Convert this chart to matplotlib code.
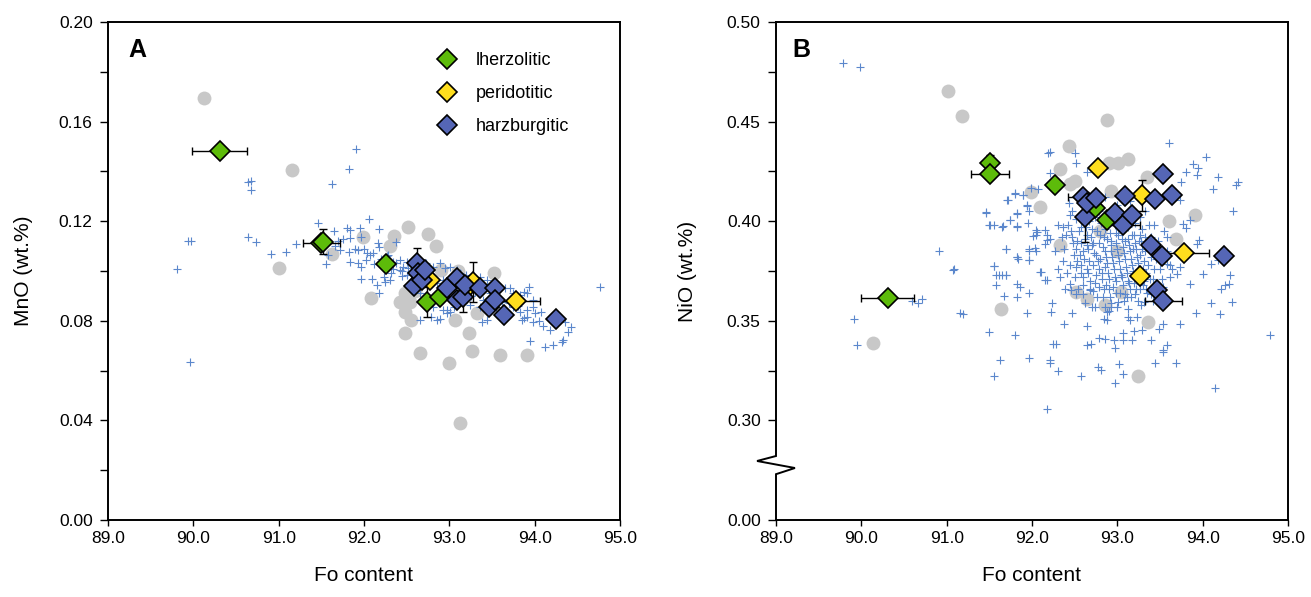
import numpy as np
import matplotlib
matplotlib.use("Agg")
import matplotlib.pyplot as plt
from matplotlib.ticker import MultipleLocator, FixedLocator, FormatStrFormatter
from matplotlib.lines import Line2D

plt.rcParams['font.family'] = ['Liberation Sans', 'DejaVu Sans']

# ---------------- panel A: MnO vs Fo ----------------
# grey circles (literature olivines)
gray_fo_a = [90.13, 91.16, 91.00, 91.99, 91.63, 92.52, 92.75, 92.35, 92.84, 92.30,
             92.08, 92.42, 92.54, 92.48, 92.55, 93.07, 93.32, 93.52, 92.48, 93.23,
             92.66, 93.00, 93.27, 93.59, 93.91, 93.13, 92.48, 92.90, 93.10, 92.60]
gray_mno = [0.1695, 0.1407, 0.1013, 0.1138, 0.1068, 0.1178, 0.1149, 0.1141, 0.1100, 0.1100,
            0.0890, 0.0877, 0.0877, 0.0837, 0.0803, 0.0803, 0.0830, 0.0993, 0.0750, 0.0750,
            0.0669, 0.0629, 0.0680, 0.0661, 0.0661, 0.0391, 0.0910, 0.1005, 0.1000, 0.0920]

# blue crosses (inclusion olivines)
cross_fo_a = [89.81, 89.94, 89.97, 89.96, 90.64, 90.68, 90.68, 90.64, 90.73, 90.91,
              91.09, 91.20, 91.46, 91.62, 91.82, 91.91, 92.06, 94.77,
              91.80, 91.84, 91.95, 92.17, 91.84, 91.97, 91.72, 91.82, 91.93, 92.03,
              92.07, 92.10, 91.58, 91.56, 91.84, 91.93, 91.97, 92.17, 92.16, 92.38,
              92.42, 92.34, 92.38, 92.46, 92.52, 92.42, 92.34, 91.97, 92.09, 92.15,
              92.17, 92.23, 92.30, 92.25,
              92.58, 92.66, 92.73, 92.81, 92.89, 92.95, 93.01, 93.09, 93.13, 93.20,
              93.28, 93.36, 93.44, 93.59, 93.65, 93.71, 93.75, 93.83, 93.87, 93.91,
              93.98, 93.98,
              92.66, 92.70, 92.81, 92.93, 92.97, 93.05, 93.16, 93.24, 93.36, 93.44,
              93.55, 93.75, 93.83,
              92.79, 92.85, 92.89, 93.01, 93.38, 93.44, 93.87, 93.91,
              93.95, 94.12, 94.22, 94.32, 94.33, 94.39, 94.42, 94.18, 94.08, 93.91,
              93.93, 93.85, 93.98, 92.66, 92.97, 94.25, 94.35, 94.10,
              92.50, 92.62, 92.78, 92.92, 93.05, 93.18, 93.30, 93.50, 93.62, 92.27,
              91.70, 91.66, 92.00, 92.45, 92.55,
              92.20, 92.28, 92.32, 92.44, 92.50, 92.56, 92.60, 92.70, 92.78, 92.85,
              92.92, 93.00, 93.10, 93.25, 93.40, 93.48, 93.70, 93.80, 94.00, 94.05,
              92.12, 92.02, 91.90, 91.75, 91.65]
cross_mno = [0.1007, 0.1122, 0.1122, 0.0635, 0.1356, 0.1360, 0.1324, 0.1138, 0.1115, 0.1067,
             0.1078, 0.1108, 0.1191, 0.1350, 0.1410, 0.1489, 0.1208, 0.0937,
             0.1174, 0.1165, 0.1171, 0.1169, 0.1131, 0.1138, 0.1084, 0.1078, 0.1084, 0.1071,
             0.1064, 0.1071, 0.1064, 0.1028, 0.1037, 0.1031, 0.1017, 0.1098, 0.1111, 0.1118,
             0.1044, 0.1037, 0.1031, 0.1017, 0.1011, 0.1004, 0.1007, 0.0967, 0.0967, 0.0944,
             0.0910, 0.0977, 0.0964, 0.0957,
             0.1044, 0.1017, 0.1031, 0.1017, 0.1031, 0.1011, 0.1017, 0.1004, 0.0991, 0.0984,
             0.0977, 0.0977, 0.0964, 0.0937, 0.0930, 0.0930, 0.0910, 0.0904, 0.0917, 0.0910,
             0.0884, 0.0857,
             0.0910, 0.0884, 0.0857, 0.0843, 0.0843, 0.0857, 0.0870, 0.0863, 0.0857, 0.0843,
             0.0857, 0.0857, 0.0837,
             0.0816, 0.0803, 0.0806, 0.0837, 0.0796, 0.0803, 0.0810, 0.0816,
             0.0720, 0.0696, 0.0703, 0.0716, 0.0722, 0.0756, 0.0776, 0.0763, 0.0837, 0.0843,
             0.0937, 0.0803, 0.0796, 0.0803, 0.0830, 0.0790, 0.0795, 0.0780,
             0.0985, 0.0975, 0.0960, 0.0950, 0.0940, 0.0925, 0.0915, 0.0890, 0.0875, 0.1060,
             0.1120, 0.1100, 0.1090, 0.1000, 0.0985,
             0.1050, 0.1065, 0.0990, 0.0980, 0.1035, 0.1000, 0.0970, 0.0990, 0.0970, 0.0950,
             0.0965, 0.0940, 0.0920, 0.0900, 0.0885, 0.0910, 0.0870, 0.0860, 0.0830, 0.0800,
             0.1030, 0.1045, 0.1090, 0.1130, 0.1160]

# diamonds: mean values of the three xenolith groups
lherz_fo_a = [90.31, 91.50, 91.52, 92.26, 92.74, 92.89]
lherz_mno = [0.1483, 0.1114, 0.1118, 0.1028, 0.0874, 0.0897]
lherz_xerr_a = [0.32, 0.22, 0.0, 0.0, 0.0, 0.0]
lherz_yerr_a = [0.0, 0.0, 0.005, 0.0, 0.006, 0.0]

perid_fo_a = [92.77, 93.22, 93.28, 93.78]
perid_mno = [0.0964, 0.0937, 0.0957, 0.0880]
perid_xerr_a = [0.0, 0.0, 0.0, 0.28]
perid_yerr_a = [0.0, 0.0, 0.008, 0.0]

harz_fo_a = [92.59, 92.62, 92.63, 92.68, 92.72, 92.97, 93.09, 93.09, 93.16, 93.18,
             93.36, 93.46, 93.54, 93.54, 93.64, 94.25]
harz_mno = [0.0941, 0.1031, 0.0991, 0.0965, 0.1005, 0.0930, 0.0973, 0.0884, 0.0897, 0.0945,
            0.0930, 0.0857, 0.0930, 0.0884, 0.0823, 0.0806]
harz_xerr_a = [0.0, 0.0, 0.0, 0.0, 0.0, 0.0, 0.0, 0.0, 0.0, 0.0,
               0.0, 0.0, 0.0, 0.0, 0.0, 0.0]
harz_yerr_a = [0.0, 0.006, 0.0, 0.0, 0.0, 0.0, 0.0, 0.0, 0.006, 0.0,
               0.0, 0.0, 0.0, 0.0, 0.0, 0.0]

# ---------------- panel B: NiO vs Fo ----------------
gray_fo_b = [90.14, 91.02, 91.18, 91.99, 92.09, 92.43, 92.88, 92.33, 93.01, 93.12,
             92.90, 93.35, 92.93, 93.60, 93.91, 93.69, 92.33, 91.64, 92.52, 92.65,
             92.86, 93.04, 93.36, 93.24, 92.50, 92.45, 92.80, 93.00]
gray_nio = [0.3387, 0.4655, 0.4528, 0.4147, 0.4069, 0.4377, 0.4508, 0.4264, 0.4290, 0.4310,
            0.4290, 0.4223, 0.4152, 0.4002, 0.4030, 0.3913, 0.3879, 0.3561, 0.3645, 0.3607,
            0.3581, 0.3645, 0.3494, 0.3223, 0.4200, 0.4185, 0.3950, 0.3850]

cross_fo_b = [
    # scattered points
    89.79, 89.98, 89.91, 89.95, 90.59, 90.66, 90.71, 90.91, 91.08, 91.16,
    91.46, 91.71, 91.80, 91.90, 91.94, 91.82, 91.74, 91.51, 91.66, 91.82,
    91.95, 92.05, 92.01, 91.70, 91.82, 91.97, 91.96, 92.05, 92.15, 92.17,
    91.56, 91.61, 91.70, 92.10, 92.19,
    93.61, 94.04, 93.89, 93.95, 93.93, 93.81, 94.18, 94.41, 94.39, 94.12,
    94.36, 93.75, 93.74, 93.85, 93.77, 93.80, 93.93, 93.96, 94.10, 94.18,
    94.32, 94.31, 94.00, 93.85, 94.22, 94.26, 94.34, 94.10, 94.20, 93.92,
    94.79, 94.15, 93.73, 93.69, 93.53, 93.54, 93.44, 93.58, 93.39, 93.54,
    93.49, 93.29, 93.17, 93.07, 92.96, 92.97, 92.86, 92.78, 92.69, 92.65,
    93.02, 93.07, 92.97, 92.77, 92.81, 92.57, 92.31, 92.21, 92.21, 91.96,
    91.62, 91.55, 92.17, 92.28, 92.25, 92.38, 91.80, 91.50, 91.94, 92.22,
    92.23, 92.47, 92.65, 92.84, 92.88, 93.13, 93.15, 93.23, 93.07, 93.19,
    91.19, 91.09, 91.46, 91.50, 91.55, 91.65, 91.82, 91.74, 91.82, 91.96,
    91.94, 91.90, 91.80, 91.72, 91.99, 92.07, 92.21, 92.21, 92.50, 92.52,
    92.65, 91.70, 91.82, 91.84, 91.97, 91.97, 91.55, 91.58, 91.65, 91.70,
    91.58, 91.67, 91.82, 91.86, 91.96, 91.82, 92.09, 92.17, 92.15, 92.31,
    92.06, 92.17, 92.21, 92.15, 92.03, 92.05, 92.45, 92.46, 92.52, 92.60,
    92.68, 92.70, 92.85, 92.88, 92.92, 93.01, 93.09, 93.21, 93.27, 93.31,
    93.39, 93.47, 93.54, 93.62, 93.70, 93.74, 93.64, 93.58,
    # dense core
    92.42, 92.47, 92.51, 92.55, 92.58, 92.61, 92.63, 92.66, 92.69, 92.71,
    92.73, 92.76, 92.78, 92.80, 92.82, 92.84, 92.86, 92.88, 92.90, 92.92,
    92.94, 92.96, 92.98, 93.00, 93.02, 93.04, 93.06, 93.08, 93.10, 93.12,
    93.14, 93.16, 93.18, 93.20, 93.22, 93.24, 93.26, 93.28, 93.30, 93.33,
    93.36, 93.39, 93.42, 93.45, 92.45, 92.50, 92.53, 92.57, 92.60, 92.64,
    92.68, 92.72, 92.75, 92.79, 92.83, 92.87, 92.91, 92.95, 92.99, 93.03,
    93.07, 93.11, 93.15, 93.19, 93.23, 93.27, 93.31, 93.35, 92.38, 92.40,
    92.36, 92.44, 92.52, 92.59, 92.67, 92.74, 92.81, 92.89, 92.97, 93.05,
    93.13, 93.21, 93.29, 93.37, 92.48, 92.56, 92.62, 92.70, 92.77, 92.85,
    92.93, 93.01, 93.09, 93.17, 93.25, 93.32, 93.41, 93.48, 93.50, 93.46,
    92.54, 92.62, 92.74, 92.90, 93.00, 93.13, 93.28, 92.33, 92.39, 92.35,
    92.30, 92.27, 92.43, 92.55, 92.69, 92.85, 93.00, 93.15, 93.32, 93.55,
    93.58, 93.62,
    92.46, 92.49, 92.53, 92.57, 92.60, 92.64, 92.67, 92.70, 92.72, 92.75,
    92.78, 92.80, 92.83, 92.85, 92.87, 92.89, 92.91, 92.93, 92.95, 92.97,
    92.99, 93.01, 93.03, 93.05, 93.07, 93.09, 93.11, 93.13, 93.15, 93.17,
    93.19, 93.21, 93.23, 93.25, 93.27, 93.29, 93.31, 93.34, 93.37, 93.40,
    93.43, 93.47, 92.58, 92.66, 92.74, 92.82, 92.90, 92.98, 93.06, 93.14,
    93.22, 93.30, 93.38, 92.52, 92.60, 92.68, 92.76, 92.84, 92.92, 93.08,
    93.16, 93.24, 93.34, 93.42, 92.41, 92.36, 92.47, 92.63, 92.79, 92.95,
    93.11, 93.27, 93.43, 93.52, 93.58, 92.64, 92.88, 93.18]
cross_nio = [
    0.4792, 0.4775, 0.3510, 0.3380, 0.3600, 0.3590, 0.3610, 0.3850, 0.3757, 0.3540,
    0.4042, 0.4106, 0.4140, 0.4133, 0.4082, 0.4042, 0.4005, 0.3983, 0.3975, 0.3975,
    0.3992, 0.3958, 0.3925, 0.3858, 0.3821, 0.3804, 0.3858, 0.3851, 0.3955, 0.3905,
    0.3774, 0.3729, 0.3729, 0.3745, 0.4343,
    0.4395, 0.4320, 0.4286, 0.4265, 0.4231, 0.4248, 0.4220, 0.4198, 0.4181, 0.4164,
    0.4052, 0.4198, 0.4106, 0.4005, 0.3988, 0.3968, 0.3888, 0.3908, 0.3787, 0.3804,
    0.3729, 0.3683, 0.3734, 0.3687, 0.3662, 0.3678, 0.3595, 0.3590, 0.3533, 0.3541,
    0.3427, 0.3164, 0.3482, 0.3288, 0.3343, 0.3352, 0.3288, 0.3380, 0.3405, 0.3482,
    0.3460, 0.3456, 0.3402, 0.3402, 0.3402, 0.3363, 0.3410, 0.3415, 0.3385, 0.3377,
    0.3281, 0.3231, 0.3188, 0.3268, 0.3254, 0.3221, 0.3247, 0.3305, 0.3288, 0.3315,
    0.3305, 0.3221, 0.3059, 0.3385, 0.3382, 0.3482, 0.3427, 0.3444, 0.3541, 0.3544,
    0.3590, 0.3541, 0.3472, 0.3511, 0.3503, 0.3519, 0.3503, 0.3519, 0.3440, 0.3449,
    0.3536, 0.3759, 0.4047, 0.3980, 0.3980, 0.3972, 0.3972, 0.4008, 0.4038, 0.4052,
    0.4075, 0.4131, 0.4136, 0.4106, 0.4169, 0.4164, 0.4345, 0.4240, 0.4340, 0.4290,
    0.4248, 0.3858, 0.3821, 0.3808, 0.3851, 0.3804, 0.3774, 0.3729, 0.3729, 0.3729,
    0.3678, 0.3623, 0.3683, 0.3670, 0.3640, 0.3620, 0.3745, 0.3704, 0.3707, 0.3759,
    0.3946, 0.3930, 0.3913, 0.3888, 0.3863, 0.3930, 0.3683, 0.3653, 0.3637, 0.3637,
    0.3653, 0.3569, 0.3569, 0.3544, 0.3569, 0.3595, 0.3637, 0.3637, 0.3687, 0.3595,
    0.3637, 0.3628, 0.3670, 0.3720, 0.3737, 0.3770, 0.3762, 0.3787,
    0.398, 0.392, 0.386, 0.395, 0.389, 0.381, 0.397, 0.386, 0.392, 0.378,
    0.384, 0.395, 0.389, 0.381, 0.374, 0.392, 0.385, 0.379, 0.371, 0.388,
    0.382, 0.376, 0.394, 0.386, 0.380, 0.373, 0.391, 0.384, 0.377, 0.370,
    0.388, 0.381, 0.375, 0.393, 0.386, 0.379, 0.383, 0.390, 0.376, 0.385,
    0.378, 0.392, 0.371, 0.381, 0.378, 0.372, 0.380, 0.374, 0.368, 0.376,
    0.370, 0.365, 0.373, 0.367, 0.362, 0.368, 0.362, 0.367, 0.370, 0.364,
    0.368, 0.362, 0.366, 0.369, 0.372, 0.366, 0.370, 0.364, 0.386, 0.393,
    0.380, 0.403, 0.401, 0.404, 0.400, 0.402, 0.399, 0.402, 0.398, 0.399,
    0.397, 0.399, 0.396, 0.398, 0.389, 0.383, 0.391, 0.388, 0.380, 0.377,
    0.390, 0.393, 0.390, 0.393, 0.390, 0.392, 0.386, 0.390, 0.376, 0.366,
    0.366, 0.359, 0.357, 0.355, 0.357, 0.356, 0.358, 0.372, 0.366, 0.392,
    0.398, 0.385, 0.409, 0.412, 0.410, 0.412, 0.408, 0.410, 0.405, 0.395,
    0.385, 0.378,
    0.395, 0.383, 0.390, 0.397, 0.385, 0.393, 0.380, 0.396, 0.389, 0.383,
    0.376, 0.393, 0.387, 0.396, 0.382, 0.374, 0.394, 0.385, 0.379, 0.372,
    0.389, 0.383, 0.376, 0.395, 0.387, 0.381, 0.374, 0.391, 0.385, 0.378,
    0.372, 0.389, 0.382, 0.376, 0.393, 0.386, 0.380, 0.374, 0.388, 0.382,
    0.376, 0.387, 0.378, 0.374, 0.369, 0.371, 0.366, 0.364, 0.372, 0.369,
    0.366, 0.368, 0.371, 0.377, 0.372, 0.366, 0.362, 0.366, 0.359, 0.360,
    0.362, 0.360, 0.366, 0.360, 0.374, 0.397, 0.405, 0.406, 0.405, 0.405,
    0.403, 0.402, 0.398, 0.371, 0.392, 0.388, 0.391, 0.386]

lherz_fo_b = [90.31, 91.51, 91.51, 92.27, 92.74, 92.88]
lherz_nio = [0.3612, 0.4293, 0.4236, 0.4181, 0.4064, 0.4005]
lherz_xerr_b = [0.31, 0.0, 0.22, 0.0, 0.0, 0.0]
lherz_yerr_b = [0.0, 0.004, 0.0, 0.0, 0.0, 0.0]

perid_fo_b = [92.77, 93.29, 93.78, 93.26]
perid_nio = [0.4268, 0.4131, 0.3841, 0.3725]
perid_xerr_b = [0.0, 0.0, 0.30, 0.0]
perid_yerr_b = [0.0, 0.0078, 0.0, 0.0]

harz_fo_b = [92.60, 92.62, 92.65, 92.75, 92.97, 93.07, 93.09, 93.17, 93.40, 93.44,
             93.47, 93.52, 93.53, 93.54, 93.64, 94.25]
harz_nio = [0.4122, 0.4022, 0.4089, 0.4117, 0.4039, 0.3980, 0.4126, 0.4030, 0.3879, 0.4111,
            0.3657, 0.3824, 0.4236, 0.3598, 0.4131, 0.3826]
harz_xerr_b = [0.18, 0.0, 0.0, 0.0, 0.0, 0.20, 0.0, 0.0, 0.0, 0.0,
               0.0, 0.0, 0.0, 0.22, 0.0, 0.0]
harz_yerr_b = [0.0, 0.0126, 0.0, 0.0, 0.0, 0.0, 0.0, 0.0, 0.0, 0.0,
               0.0, 0.0, 0.0, 0.0, 0.0, 0.0]

group_names = ['lherzolitic', 'peridotitic', 'harzburgitic']
group_colors = ['#5dbb0a', '#ffde1e', '#5566b6']
cross_color = '#5b87cc'
gray_color = '#c8c8c8'


def draw_panel(ax, gx, gy, cx, cy, groups):
    ax.plot(gx, gy, 'o', color=gray_color, ms=10, mec='none', zorder=1)
    ax.plot(cx, cy, '+', color=cross_color, ms=6, mew=0.8, zorder=2)
    for (fo, val, xe, ye), name, col in zip(groups, group_names, group_colors):
        ax.errorbar(fo, val, xerr=xe, yerr=ye, fmt='none', ecolor='black',
                    elinewidth=1.0, capsize=3, capthick=1.0, zorder=3)
        ax.plot(fo, val, 'D', ms=10, mfc=col, mec='black', mew=1.2,
                ls='none', label=name, zorder=4)
    ax.set_xlim(89, 95)
    ax.xaxis.set_major_locator(MultipleLocator(1))
    ax.xaxis.set_major_formatter(FormatStrFormatter('%.1f'))
    ax.set_xlabel('Fo content', fontsize=15, labelpad=14)
    for s in ax.spines.values():
        s.set_linewidth(1.4)
    ax.tick_params(axis='both', which='both', direction='out', labelsize=12.5,
                   width=1.0)
    ax.tick_params(axis='y', which='both', length=6, pad=5)
    ax.tick_params(axis='x', which='both', length=4, pad=4)


fig = plt.figure(figsize=(13.11, 5.97), dpi=100)
ax_a = fig.add_axes([108 / 1311, 77 / 597, 512 / 1311, 498 / 597])
ax_b = fig.add_axes([776 / 1311, 77 / 597, 512 / 1311, 498 / 597])

draw_panel(ax_a, gray_fo_a, gray_mno, cross_fo_a, cross_mno,
           [(lherz_fo_a, lherz_mno, lherz_xerr_a, lherz_yerr_a),
            (perid_fo_a, perid_mno, perid_xerr_a, perid_yerr_a),
            (harz_fo_a, harz_mno, harz_xerr_a, harz_yerr_a)])
ax_a.set_ylim(0, 0.20)
ax_a.yaxis.set_major_locator(MultipleLocator(0.04))
ax_a.yaxis.set_minor_locator(MultipleLocator(0.02))
ax_a.yaxis.set_major_formatter(FormatStrFormatter('%.2f'))
ax_a.set_ylabel('MnO (wt.%)', fontsize=15)
ax_a.yaxis.set_label_coords(-0.146, 0.5)
ax_a.text(0.058, 0.944, 'A', transform=ax_a.transAxes, fontsize=18,
          fontweight='bold', ha='center', va='center')
ax_a.legend(loc='upper left', bbox_to_anchor=(0.6445, 0.94), frameon=False,
            fontsize=13, borderpad=0, borderaxespad=0, handlelength=1.0,
            handletextpad=1.1, labelspacing=0.9, numpoints=1)

draw_panel(ax_b, gray_fo_b, gray_nio, cross_fo_b, cross_nio,
           [(lherz_fo_b, lherz_nio, lherz_xerr_b, lherz_yerr_b),
            (perid_fo_b, perid_nio, perid_xerr_b, perid_yerr_b),
            (harz_fo_b, harz_nio, harz_xerr_b, harz_yerr_b)])
# broken y axis: the bottom tick stands for 0.00
ax_b.set_ylim(0.25, 0.50)
b_ticks = [0.25, 0.30, 0.35, 0.40, 0.45, 0.50]
b_labels = ['0.00', '0.30', '0.35', '0.40', '0.45', '0.50']
ax_b.yaxis.set_major_locator(FixedLocator(b_ticks))
ax_b.set_yticklabels(b_labels)
ax_b.yaxis.set_minor_locator(FixedLocator([0.325, 0.375, 0.425, 0.475]))
ax_b.set_ylabel('NiO (wt.%)', fontsize=15)
ax_b.yaxis.set_label_coords(-0.155, 0.5)
ax_b.text(0.05, 0.944, 'B', transform=ax_b.transAxes, fontsize=18,
          fontweight='bold', ha='center', va='center')

ax_b.spines['left'].set_visible(False)
zz_x = [0, 0, -0.037, 0.037, 0, 0]
zz_y = [1, 0.1285, 0.1185, 0.1044, 0.092, 0]
ax_b.add_line(Line2D(zz_x, zz_y, transform=ax_b.transAxes, color='black',
                     lw=1.4, clip_on=False, zorder=5, solid_joinstyle='miter'))

fig.savefig('out.png', dpi=100)
